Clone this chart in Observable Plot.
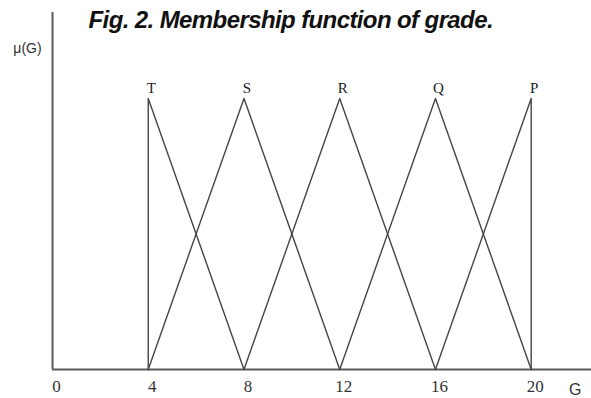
<!DOCTYPE html>
<html>
<head>
<meta charset="utf-8">
<script src="https://cdn.jsdelivr.net/npm/d3@7"></script>
<script src="https://cdn.jsdelivr.net/npm/@observablehq/plot@0.6"></script>
<style>
  html, body { margin: 0; padding: 0; background: #fff; }
  .caption text { letter-spacing: -0.6px; }
</style>
</head>
<body>
<div id="chart"></div>
<script>
// Triangular membership functions for the five grades
const grades = ["T", "S", "R", "Q", "P"];
const footLeft = [4, 4, 8, 12, 16];
const peakAt = [4, 8, 12, 16, 20];
const footRight = [8, 12, 16, 20, 20];
const gradeTicks = [0, 4, 8, 12, 16, 20];

// Vertices of each membership triangle: foot, peak (μ = 1), foot
const vertices = grades.flatMap((g, i) => [
  {grade: g, G: footLeft[i], mu: 0},
  {grade: g, G: peakAt[i], mu: 1},
  {grade: g, G: footRight[i], mu: 0}
]);
const peaks = grades.map((g, i) => ({grade: g, G: peakAt[i], mu: 1}));

const chart = Plot.plot({
  width: 591,
  height: 398,
  marginLeft: 52,
  marginRight: 60.3,
  marginTop: 12,
  marginBottom: 29,
  style: {background: "#fff"},
  x: {domain: [0, 20]},
  y: {domain: [0, 1.317], axis: null},
  marks: [
    // axis lines
    Plot.ruleX([{G: 0, y1: 0, y2: 1.317}], {x: "G", y1: "y1", y2: "y2", stroke: "#5a5a5a", strokeWidth: 2}),
    Plot.ruleY([{mu: 0, x1: 0, x2: 22.6}], {y: "mu", x1: "x1", x2: "x2", stroke: "#5a5a5a", strokeWidth: 2}),
    // membership triangles
    Plot.line(vertices, {x: "G", y: "mu", z: "grade", stroke: "#454545", strokeWidth: 1.4}),
    // grade names above peaks
    Plot.text(peaks, {x: "G", y: "mu", text: "grade", dx: 3, dy: -10, fontFamily: "Liberation Serif", fontSize: 15, fill: "#222"}),
    // tick labels
    Plot.axisX({ticks: gradeTicks, tickSize: 0, tickPadding: 10, dx: 4, fontFamily: "Liberation Serif", fontSize: 17, fill: "#333", tickFormat: d => String(d)}),
    // axis titles
    Plot.text(["G"], {frameAnchor: "bottom-right", lineAnchor: "middle", textAnchor: "middle", dx: 44, dy: 20, fontFamily: "Liberation Sans", fontSize: 16, fill: "#333"}),
    Plot.text(["μ(G)"], {frameAnchor: "top-left", lineAnchor: "middle", textAnchor: "middle", dx: -25, dy: 36, fontFamily: "Liberation Sans", fontSize: 14, fill: "#333"}),
    // figure caption
    Plot.text(["Fig. 2. Membership function of grade."], {className: "caption", frameAnchor: "top-left", lineAnchor: "middle", dx: 36, dy: 8, textAnchor: "start", fontFamily: "Liberation Sans", fontSize: 24, fontWeight: "bold", fontStyle: "italic", fill: "#111"})
  ]
});
document.getElementById("chart").append(chart);
</script>
</body>
</html>
